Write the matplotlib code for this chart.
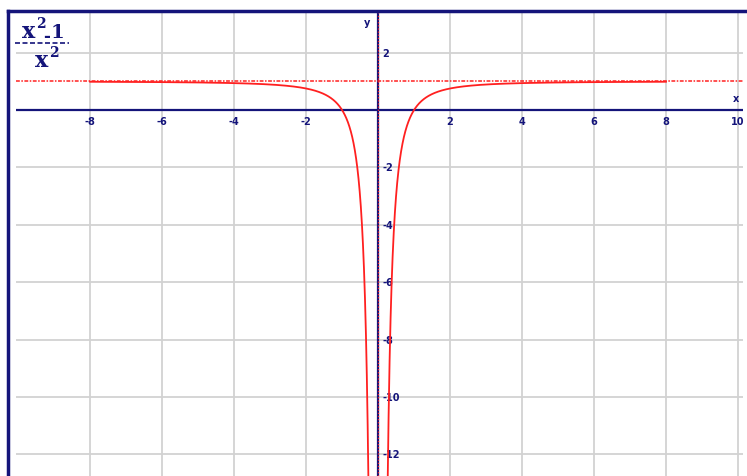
import numpy as np
import matplotlib.pyplot as plt
from matplotlib.lines import Line2D

# graph of (x^2-1)/x^2 with asymptotes
x_ticks = [-8, -6, -4, -2, 2, 4, 6, 8, 10]
y_ticks = [2, -2, -4, -6, -8, -10, -12]
x_grid = [-8, -6, -4, -2, 2, 4, 6, 8, 10]
y_grid = [2, -2, -4, -6, -8, -10, -12]
h_asym = 1.0
v_asym = 0.0
x_from, x_to = -8, 8

navy = "#14147a"
red = "#ff2020"

W, H = 747, 477
fig = plt.figure(figsize=(W / 100, H / 100), dpi=100)
ax = fig.add_axes([16 / W, 0, (743 - 16) / W, (477 - 14) / H])
ax.set_xlim(-10.06, 10.14)
ax.set_ylim(-12.75, 3.38)
ax.axis("off")

for g in x_grid:
    ax.axvline(g, color="#d2d2d2", lw=1.3, zorder=1)
for g in y_grid:
    ax.axhline(g, color="#d2d2d2", lw=1.3, zorder=1)

# axes
ax.axhline(0, color=navy, lw=1.6, zorder=2)
ax.axvline(0, color=navy, lw=1.6, zorder=2)

# asymptotes
ax.axhline(h_asym, color=red, lw=1.1, ls=(0, (2.5, 1, 1, 1)), zorder=3)
ax.axvline(v_asym, color=red, lw=0.9, ls=(0, (1, 1.5)), zorder=3)

# curve, split at x=0
for a, b in [(x_from, -0.05), (0.05, x_to)]:
    xs = np.linspace(a, b, 2000)
    ys = (xs ** 2 - 1) / xs ** 2
    ax.plot(xs, ys, color=red, lw=1.3, zorder=4)

tick_font = dict(fontsize=7, fontweight="bold", color=navy, family="DejaVu Sans")
for t in x_ticks:
    ax.text(t, -0.2, str(t), ha="center", va="top", **tick_font)
for t in y_ticks:
    ax.text(0.12, t, str(t), ha="left", va="center", **tick_font)

ax.text(9.95, 0.25, "x", ha="center", va="bottom", **tick_font)
ax.text(-0.3, 3.05, "y", ha="center", va="center", **tick_font)

# title fraction, piece by piece (pixel positions)
def piece(px, py, s, size):
    fig.text(px / W, 1 - py / H, s, ha="center", va="baseline", fontsize=size,
             fontweight="bold", color=navy, family="DejaVu Serif")

piece(29, 38, "x", 16)
piece(40.5, 28, "2", 10)
piece(46.5, 41, "-", 12)
piece(57, 38, "1", 14)
piece(42, 67, "x", 16)
piece(54, 57, "2", 10)
fig.add_artist(Line2D([15 / W, 69 / W], [1 - 44 / H, 1 - 44 / H], color=navy,
                      lw=1.2, ls=(0, (3, 1.5)), transform=fig.transFigure))

# frame
fig.add_artist(Line2D([8 / W, 8 / W], [0, 1 - 12 / H], color=navy, lw=2.5,
                      transform=fig.transFigure))
fig.add_artist(Line2D([8 / W, 1], [1 - 12 / H, 1 - 12 / H], color=navy, lw=2.5,
                      transform=fig.transFigure))

fig.savefig("out.png", dpi=100)
